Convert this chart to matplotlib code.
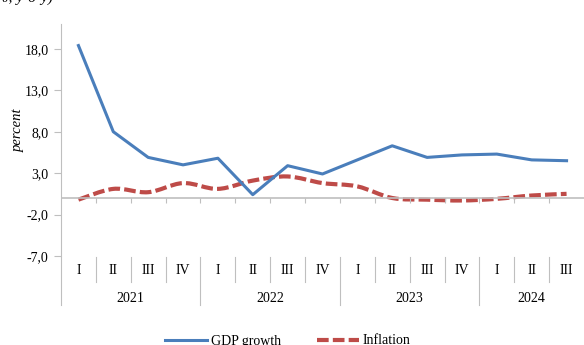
"""GDP growth vs inflation by quarter, 2021-2024."""

import matplotlib
matplotlib.use("Agg")
import matplotlib.pyplot as plt
import matplotlib.transforms as mtransforms
from matplotlib.lines import Line2D
from matplotlib.patches import PathPatch
from matplotlib.path import Path
from matplotlib.ticker import FuncFormatter

plt.rcParams["font.family"] = ["Liberation Serif", "DejaVu Serif"]

years = ["2021", "2022", "2023", "2024"]
quarters = ["I", "II", "III", "IV", "I", "II", "III", "IV",
            "I", "II", "III", "IV", "I", "II", "III"]
gdp_growth = [18.4, 8.0, 4.9, 4.0, 4.8, 0.4, 3.9, 2.9,
              4.6, 6.3, 4.9, 5.2, 5.3, 4.6, 4.5]
inflation = [-0.2, 1.1, 0.7, 1.8, 1.1, 2.1, 2.6, 1.8,
             1.4, 0.0, -0.2, -0.3, -0.1, 0.3, 0.5]
yticks = [-7, -2, 3, 8, 13, 18]

BLUE = "#4A7EBB"
RED = "#BE4B48"
GRAY = "#BFBFBF"
W, H = 584, 345


def smooth_path(xs, ys):
    # Bezier path through every point, same style as a spreadsheet "smoothed line"
    pts = list(zip(xs, ys))
    verts = [pts[0]]
    codes = [Path.MOVETO]
    n = len(pts)
    for i in range(n - 1):
        p0 = pts[max(i - 1, 0)]
        p1 = pts[i]
        p2 = pts[i + 1]
        p3 = pts[min(i + 2, n - 1)]
        c1 = (p1[0] + (p2[0] - p0[0]) / 6, p1[1] + (p2[1] - p0[1]) / 6)
        c2 = (p2[0] - (p3[0] - p1[0]) / 6, p2[1] - (p3[1] - p1[1]) / 6)
        verts += [c1, c2, p2]
        codes += [Path.CURVE4] * 3
    return Path(verts, codes)


fig = plt.figure(figsize=(W / 100, H / 100), dpi=100)
ax = fig.add_axes([61 / W, 1 - 256 / H, (W - 61) / W, (256 - 24) / H])

x = list(range(len(quarters)))
ax.plot(x, gdp_growth, color=BLUE, linewidth=2.2, solid_joinstyle="round")
ax.add_patch(PathPatch(smooth_path(x, inflation), fill=False, edgecolor=RED,
                       linewidth=3, linestyle=(0, (2.8, 1.0))))

ax.set_xlim(-0.5, len(quarters) - 0.5)
ax.set_ylim(-7, 21)
ax.set_yticks(yticks)
ax.yaxis.set_major_formatter(FuncFormatter(lambda v, _: f"{v:.1f}".replace(".", ",")))
ax.tick_params(axis="y", length=5, width=0.8, color=GRAY, labelsize=10, pad=4)
ax.set_xticks([])
for side in ("top", "right", "bottom"):
    ax.spines[side].set_visible(False)
ax.spines["left"].set_color(GRAY)

# zero line with small category ticks hanging below it
ax.axhline(0, color=GRAY, linewidth=1.2, zorder=1)
bounds = [i + 0.5 for i in range(len(quarters) - 1)]
ax.vlines(bounds, -0.6, 0, color=GRAY, linewidth=0.8)

ax.text(-0.082, 0.543, "percent", transform=ax.transAxes, rotation=90,
        style="italic", fontsize=10.5, ha="center", va="center")

# two-level category labels under the plot
tr = mtransforms.blended_transform_factory(ax.transData, fig.transFigure)


def fy(px):
    return 1 - px / H


for i, q in enumerate(quarters):
    ax.text(i, fy(270), q, transform=tr, ha="center", va="center", fontsize=10)
for b in bounds:
    is_year = (b + 0.5) % 4 == 0
    ax.add_line(Line2D([b, b], [fy(257), fy(305 if is_year else 282)], transform=tr,
                       color=GRAY, linewidth=0.8, clip_on=False))
ax.add_line(Line2D([-0.5, -0.5], [fy(257), fy(305)], transform=tr,
                   color=GRAY, linewidth=0.8, clip_on=False))
for k, yr in enumerate(years):
    start = 4 * k
    end = min(4 * k + 3, len(quarters) - 1)
    ax.text((start + end) / 2, fy(298), yr, transform=tr, ha="center",
            va="center", fontsize=10)

fig.text(53 / W, fy(1.5), "(in %, y-o-y)", style="italic", fontsize=11,
         ha="right", va="baseline")

handles = [Line2D([], [], color=BLUE, linewidth=2.2),
           Line2D([], [], color=RED, linewidth=3, linestyle=(0, (2.8, 1.0)))]
fig.legend(handles, ["GDP growth", "Inflation"], loc="center",
           bbox_to_anchor=(288 / W, fy(341)), ncol=2, frameon=False, fontsize=10,
           handlelength=3.0, handletextpad=0.3, columnspacing=2.6,
           borderaxespad=0, borderpad=0)

fig.savefig("out.png", dpi=100)
